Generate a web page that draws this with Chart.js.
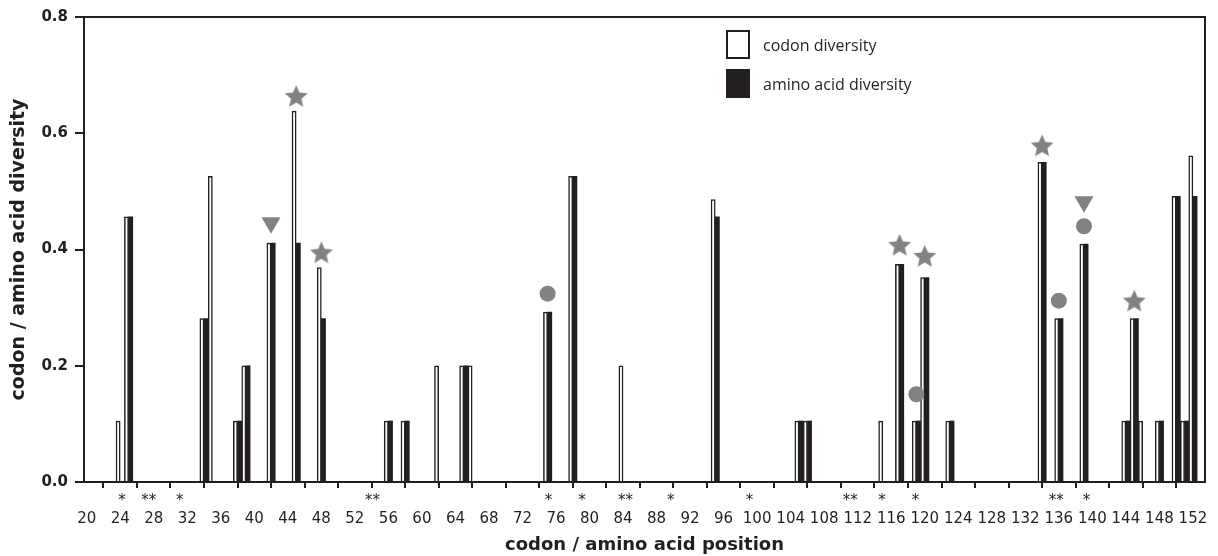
<!DOCTYPE html>
<html>
<head>
<meta charset="utf-8">
<script src="https://cdn.jsdelivr.net/npm/chart.js@4"></script>
<style>
  html, body { margin: 0; padding: 0; background: #fff; }
  #wrap { width: 1218px; height: 556px; position: relative; }
</style>
</head>
<body>
<div id="wrap"><canvas id="c" width="1218" height="556"></canvas></div>
<script>
// ---- data ----
const positions = [24,25,34,35,38,39,42,45,48,56,58,62,65,66,75,78,84,95,105,106,115,117,119,120,123,134,136,139,144,145,146,148,150,151,152];
const codonDiversity = [0.105,0.456,0.281,0.526,0.105,0.2,0.411,0.638,0.369,0.105,0.105,0.2,0.2,0.2,0.2925,0.526,0.2,0.486,0.105,0.105,0.105,0.3745,0.105,0.3515,0.105,0.55,0.281,0.4095,0.105,0.281,0.105,0.105,0.4915,0.105,0.561];
const aminoDiversity = [0,0.456,0.281,0,0.105,0.2,0.411,0.411,0.281,0.105,0.105,0,0.2,0,0.2925,0.526,0,0.456,0.105,0.105,0,0.3745,0.105,0.3515,0.105,0.55,0.281,0.4095,0.105,0.281,0,0.105,0.4915,0.105,0.4915];

const starPos = [45,48,117,120,134,145];
const starVal = [0.664,0.395,0.408,0.389,0.579,0.312];
const circlePos = [75,119,136,139];
const circleVal = [0.324,0.151,0.312,0.44];
const trianglePos = [42,139];
const triangleVal = [0.446,0.482];

const asteriskPos = [24.2,27.4,31.1,54.1,75.1,79.1,84.3,89.7,99.1,111.1,114.9,118.9,135.7,139.3];
const asteriskText = ['*','**','*','**','*','*','**','*','*','**','*','*','**','*'];

const xTickValues = [20,24,28,32,36,40,44,48,52,56,60,64,68,72,76,80,84,88,92,96,100,104,108,112,116,120,124,128,132,136,140,144,148,152];
const yTickValues = [0,0.2,0.4,0.6,0.8];

const labels = { codon: 'codon diversity', amino: 'amino acid diversity',
  xTitle: 'codon / amino acid position', yTitle: 'codon / amino acid diversity' };

// ---- styling ----
const INK = '#231f20';
const GREY = '#808285';

function makeStar(R) {
  const s = Math.ceil(R * 2 + 2);
  const cv = document.createElement('canvas');
  cv.width = s; cv.height = s;
  const g = cv.getContext('2d');
  const cx = s / 2, cy = s / 2 + R * 0.08, r = R * 0.46;
  g.beginPath();
  for (let i = 0; i < 10; i++) {
    const a = -Math.PI / 2 + i * Math.PI / 5;
    const rr = i % 2 === 0 ? R : r;
    const px = cx + rr * Math.cos(a), py = cy + rr * Math.sin(a);
    if (i === 0) g.moveTo(px, py); else g.lineTo(px, py);
  }
  g.closePath();
  g.fillStyle = GREY;
  g.fill();
  return cv;
}
const starImg = makeStar(12);

const asteriskPlugin = {
  id: 'asterisks',
  afterDraw(chart) {
    const ctx = chart.ctx, xs = chart.scales.x;
    ctx.save();
    ctx.fillStyle = INK;
    ctx.font = '15px "DejaVu Sans"';
    ctx.textAlign = 'center';
    ctx.textBaseline = 'alphabetic';
    asteriskPos.forEach((p, i) => {
      ctx.fillText(asteriskText[i], xs.getPixelForValue(p), 505);
    });
    ctx.restore();
  }
};

const framePlugin = {
  id: 'frame',
  afterDraw(chart) {
    const { left, right, top, bottom } = chart.chartArea;
    const ctx = chart.ctx;
    ctx.save();
    ctx.strokeStyle = INK;
    ctx.lineWidth = 2;
    ctx.beginPath();
    ctx.moveTo(left, top);
    ctx.lineTo(right, top);
    ctx.lineTo(right, bottom);
    ctx.stroke();
    ctx.restore();
  }
};

const legendPlugin = {
  id: 'customLegend',
  afterDraw(chart) {
    const ctx = chart.ctx;
    const ds = chart.data.datasets;
    ctx.save();
    ctx.font = '16px "Open Sans"';
    ctx.textBaseline = 'middle';
    ctx.fillStyle = ds[0].backgroundColor;
    ctx.fillRect(727, 31, 22, 27);
    ctx.strokeStyle = INK; ctx.lineWidth = 2;
    ctx.strokeRect(727, 31, 22, 27);
    ctx.fillStyle = INK;
    ctx.fillText(ds[0].label, 763, 46);
    ctx.fillStyle = ds[1].backgroundColor;
    ctx.fillRect(726, 69, 24, 29);
    ctx.fillStyle = INK;
    ctx.fillText(ds[1].label, 763, 85);
    ctx.restore();
  }
};

new Chart(document.getElementById('c'), {
  type: 'bar',
  data: {
    datasets: [
      { label: labels.codon, data: positions.map((p, i) => ({ x: p, y: codonDiversity[i] })),
        backgroundColor: '#ffffff', borderColor: INK, borderWidth: 1.5, borderSkipped: 'start',
        categoryPercentage: 1.0, barPercentage: 1.0, order: 2 },
      { label: labels.amino, data: positions.map((p, i) => ({ x: p, y: aminoDiversity[i] })),
        backgroundColor: INK, borderColor: INK, borderWidth: 0,
        categoryPercentage: 1.0, barPercentage: 1.0, order: 2 },
      { type: 'scatter', label: 'stars', data: starPos.map((p, i) => ({ x: p, y: starVal[i] })),
        pointStyle: starImg, pointRadius: 12, order: 1 },
      { type: 'scatter', label: 'circles', data: circlePos.map((p, i) => ({ x: p, y: circleVal[i] })),
        pointStyle: 'circle', pointRadius: 8, backgroundColor: GREY, borderColor: GREY, borderWidth: 0, order: 1 },
      { type: 'scatter', label: 'triangles', data: trianglePos.map((p, i) => ({ x: p, y: triangleVal[i] })),
        pointStyle: 'triangle', rotation: 180, pointRadius: 11, backgroundColor: GREY, borderColor: GREY, borderWidth: 0, order: 1 }
    ]
  },
  options: {
    responsive: false,
    animation: false,
    events: [],
    layout: { padding: { left: 0, right: 11, top: 17, bottom: 0 } },
    plugins: { legend: { display: false }, tooltip: { enabled: false } },
    scales: {
      x: {
        type: 'linear',
        offset: false,
        min: 19.68,
        max: 153.44,
        afterBuildTicks: (s) => { s.ticks = xTickValues.map(v => ({ value: v })); },
        afterFit: (s) => { s.height = 74; s.paddingLeft = 0; s.paddingRight = 0; },
        grid: { display: true, drawOnChartArea: false, drawTicks: true, tickLength: 6, color: INK, lineWidth: 2 },
        border: { display: true, color: INK, width: 2 },
        ticks: { autoSkip: false, maxRotation: 0, padding: 22, color: INK,
                 font: { family: 'DejaVu Sans', size: 15 }, callback: (v) => String(v) },
        title: { display: true, text: labels.xTitle, color: INK, padding: { top: 0, bottom: 0 },
                 font: { family: 'DejaVu Sans', size: 18, weight: 'bold' } }
      },
      y: {
        min: 0,
        max: 0.8,
        afterBuildTicks: (s) => { s.ticks = yTickValues.map(v => ({ value: v })); },
        afterFit: (s) => { s.width = 84; s.paddingTop = 0; s.paddingBottom = 0; },
        grid: { display: true, drawOnChartArea: false, drawTicks: true, tickLength: 9, color: INK, lineWidth: 2 },
        border: { display: true, color: INK, width: 2 },
        ticks: { padding: 7, color: INK, font: { family: 'DejaVu Sans', size: 15, weight: 'bold' },
                 callback: (v) => Number(v).toFixed(1) },
        title: { display: true, text: labels.yTitle, color: INK, padding: { top: 8, bottom: 0 },
                 font: { family: 'DejaVu Sans', size: 19, weight: 'bold' } }
      }
    }
  },
  plugins: [asteriskPlugin, framePlugin, legendPlugin]
});
</script>
</body>
</html>
